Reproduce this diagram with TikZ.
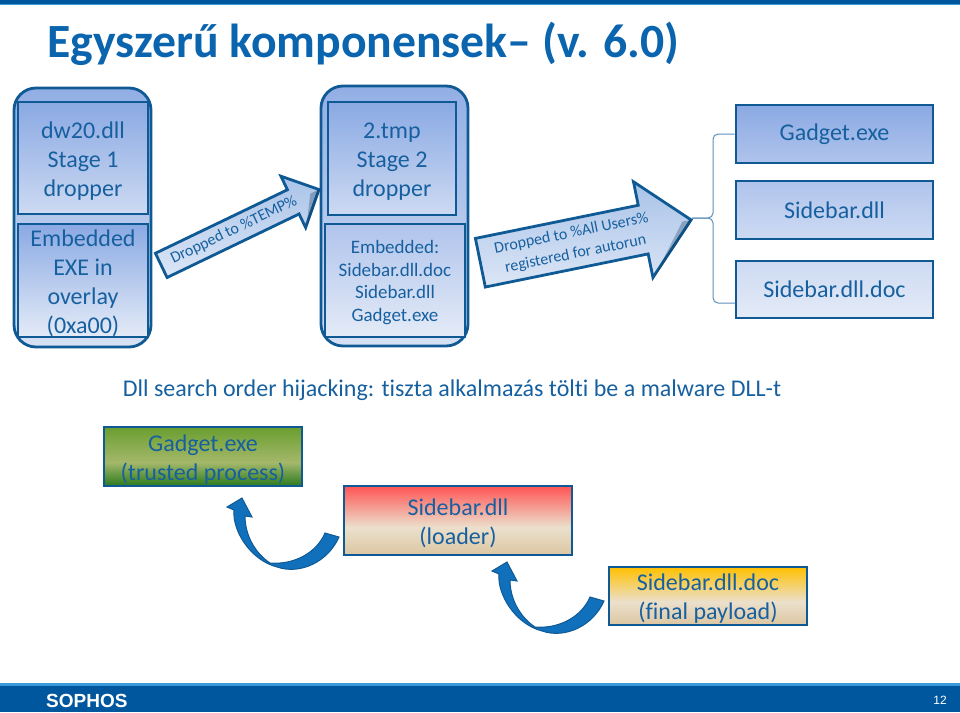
\documentclass[tikz,border=0pt]{standalone}
\usepackage{fontspec}
\setmainfont[Ligatures=NoCommon]{Carlito}
\newfontfamily\footfont{Liberation Sans}
\usetikzlibrary{shapes.arrows, calc}
\newcommand{\liftrow}{\rule{0pt}{0.92em}}
\definecolor{sophosblue}{HTML}{00579E}
\definecolor{sophoslight}{HTML}{3A9AD9}
\definecolor{titleblue}{HTML}{0A64AE}
\definecolor{edgeblue}{HTML}{0F5A94}
\definecolor{textblue}{HTML}{17609F}
\definecolor{swooshblue}{HTML}{1070BC}
\definecolor{arrowtop}{HTML}{A9C3E8}
\definecolor{arrowbot}{HTML}{DCE6F6}
\definecolor{paleA}{HTML}{8AA9E3}
\definecolor{paleB}{HTML}{B0C4EC}
\definecolor{paleC}{HTML}{CDDAF2}
\definecolor{paleD}{HTML}{E4EBF7}
\definecolor{dgreen}{HTML}{2A7A1E}
\definecolor{bgreen}{HTML}{A4B86A}
\definecolor{tgreen}{HTML}{6A9E30}
\definecolor{bsand}{HTML}{DCC6A2}
\definecolor{msand}{HTML}{EBE0CC}
\definecolor{tred}{HTML}{FF5555}
\definecolor{tyellow}{HTML}{FFC000}
\pgfdeclareverticalshading{greenfade}{100bp}{color(0bp)=(dgreen);color(25bp)=(dgreen);
  color(45bp)=(bgreen);color(75bp)=(tgreen);color(100bp)=(tgreen)}
\pgfdeclareverticalshading{redfade}{100bp}{color(0bp)=(bsand);color(25bp)=(bsand);
  color(45bp)=(msand);color(75bp)=(tred);color(100bp)=(tred)}
\pgfdeclareverticalshading{yellowfade}{100bp}{color(0bp)=(bsand);color(25bp)=(bsand);
  color(45bp)=(msand);color(75bp)=(tyellow);color(100bp)=(tyellow)}
\begin{document}
\begin{tikzpicture}[x=1pt, y=-1pt,
    every node/.style={text=textblue, inner sep=0pt, align=center, font=\fontsize{24}{29}\selectfont},
    box/.style={draw=edgeblue, line width=2.8pt},
    shell/.style={box, rounded corners=22pt},
    droparrow/.style={single arrow, draw=edgeblue, line width=2.8pt, anchor=tail,
      top color=arrowtop, bottom color=arrowbot, inner xsep=2pt},
    bevel/.style={fill=edgeblue!60!black, opacity=.3},
    swoosh/.style={draw=edgeblue, line width=1pt, fill=swooshblue},
    bracket/.style={draw=textblue!70, line width=1pt, rounded corners=5pt}]
  \useasboundingbox (0,0) rectangle (960,712);

  % Header and footer
  \fill[sophoslight] (0,4) rectangle (960,5);
  \fill[sophosblue] (0,0) rectangle (960,4);
  \fill[sophosblue] (0,683) rectangle (960,712);
  \fill[sophoslight] (0,683) rectangle (960,686);
  \node[anchor=base west, font=\bfseries\fontsize{47.7}{56}\selectfont, text=titleblue] (title) at (47,57) {Egyszerű komponensek– (v. 6.0)};
  \node[anchor=west, text=white, font=\footfont\bfseries\fontsize{19}{19}\selectfont] (logo) at (46,701) {SOPHOS};
  \node[text=white, font=\footfont\fontsize{12}{12}\selectfont] (page) at (940,700) {12};

  % Stage 1
  \node[shell, top color=paleA!80!paleB, bottom color=paleC!60!paleD, minimum width=137pt, minimum height=259pt] (shell1) at (82.5,217.5) {};
  \node[box, top color=paleA, bottom color=paleC, minimum width=130pt, minimum height=112pt] (stage1) at (83,158) {\liftrow dw20.dll\\Stage 1\\dropper};
  \node[box, top color=paleA, bottom color=paleD, minimum width=130pt, minimum height=113pt] (over1) at (83,280.5) {\liftrow Embedded\\EXE in\\overlay\\(0xa00)};

  % Stage 2
  \node[shell, top color=paleA!80!paleB, bottom color=paleC!60!paleD, minimum width=147pt, minimum height=260pt] (shell2) at (394.5,216) {};
  \node[box, top color=paleA, bottom color=paleC, minimum width=128pt, minimum height=113pt] (stage2) at (392,158.5) {\liftrow 2.tmp\\Stage 2\\dropper};
  \node[box, top color=paleB, bottom color=paleD, minimum width=140pt, minimum height=113pt, font=\fontsize{19}{22.7}\selectfont] (over2) at (395,280.5) {\liftrow Embedded:\\Sidebar.dll.doc\\Sidebar.dll\\Gadget.exe};

  % Dropped files
  \node[box, top color=paleA, bottom color=paleB, minimum width=197pt, minimum height=58pt] (gadget) at (834.5,134) {Gadget.exe};
  \node[box, top color=paleB, bottom color=paleC, minimum width=197pt, minimum height=58pt] (sidebar) at (834.5,210) {Sidebar.dll};
  \node[box, top color=paleC, bottom color=paleD, minimum width=197pt, minimum height=57pt] (payload) at (834.5,289.5) {Sidebar.dll.doc};

  % Arrows between stages
  \node[droparrow, rotate=25.7, minimum height=175pt, minimum width=57pt, single arrow head extend=15pt, font=\fontsize{16}{16}\selectfont, text height=16pt, text depth=8pt] (droptemp) at (160,266) {Dropped to \%TEMP\%};
  \node[droparrow, rotate=11.5, minimum height=215pt, minimum width=96pt, single arrow head extend=24pt, inner ysep=6pt, font=\fontsize{16}{21}\selectfont] (dropall) at (479,263) {Dropped to \%All Users\%\\registered for autorun};
  \fill[bevel] (droptemp.tip) -- (droptemp.after tip) -- ($(droptemp.tip)!.12!(droptemp.center)$) -- cycle;
  \fill[bevel] (dropall.tip) -- (dropall.after tip) -- ($(dropall.tip)!.09!(dropall.center)$) -- cycle;

  % Bracket
  \coordinate (bracetip) at (692,218);
  \coordinate (bracemid) at (713,218);
  \coordinate (bracelow) at (735,303);
  \draw[bracket] (gadget.west) -| (bracemid) -- (bracetip);
  \draw[bracket] (bracelow) -| (bracemid) -- (bracetip);

  \node (caption) at (452,390) {Dll search order hijacking: tiszta alkalmazás tölti be a malware DLL-t};

  % Load chain
  \node[box, shade, shading=greenfade, minimum width=198pt, minimum height=59pt] (trusted) at (203,456.5) {\liftrow Gadget.exe\\(trusted process)};
  \node[box, shade, shading=redfade, minimum width=228pt, minimum height=69pt] (loader) at (458,520.5) {\liftrow Sidebar.dll\\(loader)};
  \node[box, shade, shading=yellowfade, minimum width=198pt, minimum height=58pt] (final) at (708,596) {\liftrow Sidebar.dll.doc\\(final payload)};

  \foreach \dx/\dy in {0/0, 265/64} {
    \draw[swoosh, shift={(\dx,\dy)}] (242,498) -- (227,507) -- (234,510)
      .. controls (232,530) and (250,560) .. (277,567)
      .. controls (300,575) and (328,562) .. (339,537)
      -- (325,533)
      .. controls (317,552) and (295,565) .. (270,563)
      .. controls (255,553) and (245,535) .. (245,516)
      -- (252,517) -- cycle;
  }
\end{tikzpicture}
\end{document}
